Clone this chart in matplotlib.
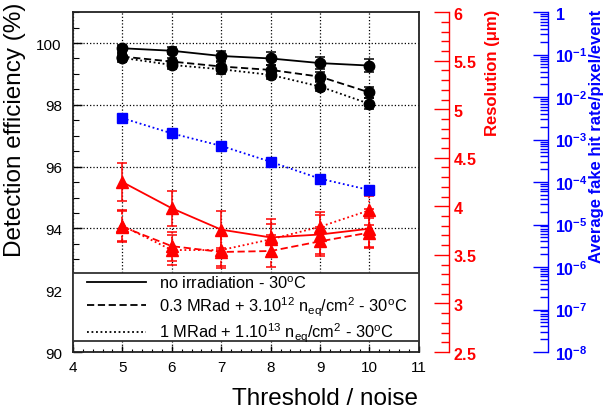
import numpy as np
import matplotlib
matplotlib.use('Agg')
from matplotlib import pyplot as plt
from matplotlib.lines import Line2D
from matplotlib.patches import Rectangle
from matplotlib.ticker import MultipleLocator, FuncFormatter, LogLocator, NullFormatter

plt.rcParams['font.family'] = ['Liberation Sans', 'DejaVu Sans']
plt.rcParams['mathtext.fontset'] = 'custom'
plt.rcParams['mathtext.rm'] = 'Liberation Sans'
plt.rcParams['mathtext.it'] = 'Liberation Sans:italic'
plt.rcParams['mathtext.bf'] = 'Liberation Sans:bold'
plt.rcParams['mathtext.default'] = 'regular'

# threshold / noise
thr = [5, 6, 7, 8, 9, 10]

# detection efficiency (%)
eff_noirr = [99.83, 99.75, 99.58, 99.50, 99.35, 99.27]
eff_03 = [99.56, 99.40, 99.24, 99.13, 98.91, 98.40]
eff_1 = [99.52, 99.29, 99.15, 98.97, 98.59, 98.03]
eff_err_noirr = [0.12, 0.12, 0.15, 0.2, 0.2, 0.22]
eff_err_03 = [0.12, 0.12, 0.15, 0.15, 0.15, 0.18]
eff_err_1 = [0.12, 0.12, 0.15, 0.15, 0.15, 0.18]

# resolution (um)
res_noirr = [4.25, 3.98, 3.76, 3.68, 3.71, 3.77]
res_03 = [3.79, 3.59, 3.53, 3.54, 3.64, 3.73]
res_1 = [3.80, 3.55, 3.55, 3.66, 3.79, 3.96]
res_err_noirr = [0.2, 0.18, 0.19, 0.19, 0.2, 0.2]
res_err_03 = [0.16, 0.15, 0.16, 0.16, 0.15, 0.15]
res_err_1 = [0.16, 0.15, 0.16, 0.16, 0.15, 0.15]

# average fake hit rate / pixel / event
fake_rate = [3.2e-3, 1.4e-3, 7.1e-4, 3.0e-4, 1.2e-4, 6.5e-5]

legend_labels = ['no irradiation - 30$^{o}$C',
                 '0.3 MRad + 3.10$^{12}$ n$_{eq}$/cm$^{2}$ - 30$^{o}$C',
                 '1 MRad + 1.10$^{13}$ n$_{eq}$/cm$^{2}$ - 30$^{o}$C']

RED = '#ff0000'
BLUE = '#0000ff'

fig = plt.figure(figsize=(6.08, 4.10), dpi=100)
ax = fig.add_axes([0.120, 0.139, 0.569, 0.829])
ax.set_xlim(4, 11)
ax.set_ylim(90, 101)
ax.xaxis.set_major_locator(MultipleLocator(1))
ax.xaxis.set_minor_locator(MultipleLocator(0.2))
ax.yaxis.set_major_locator(MultipleLocator(2))
ax.yaxis.set_minor_locator(MultipleLocator(0.5))
ax.tick_params(axis='x', which='major', direction='in', length=4.5, width=1, labelsize=11, pad=6)
ax.tick_params(axis='x', which='minor', direction='in', length=2.5, width=0.8)
ax.tick_params(axis='y', which='major', direction='in', length=6.5, width=1, labelsize=11, pad=8)
ax.tick_params(axis='y', which='minor', direction='in', length=4, width=0.8)
ax.grid(True, which='major', linestyle=':', color='black', linewidth=0.9)
for s in ax.spines.values():
    s.set_linewidth(1.3)
    s.set_color('#222222')

styles = ['-', (0, (4, 2)), (0, (1, 1.5))]

# black: efficiency
for y, e, ls in zip([eff_noirr, eff_03, eff_1], [eff_err_noirr, eff_err_03, eff_err_1], styles):
    eb = ax.errorbar(thr, y, yerr=e, color='black', marker='o', markersize=7.5,
                     linestyle=ls, linewidth=1.3, capsize=3.5, elinewidth=1.1, capthick=1.1)
    eb[2][0].set_linestyle(ls)

# red: resolution
ax2 = ax.twinx()
ax2.set_ylim(2.5, 6)
ax2.spines['right'].set_position(('axes', 1.087))
for k in ['left', 'top', 'bottom']:
    ax2.spines[k].set_visible(False)
ax2.spines['right'].set_color(RED)
ax2.spines['right'].set_linewidth(1)
ax2.yaxis.set_major_locator(MultipleLocator(0.5))
ax2.yaxis.set_minor_locator(MultipleLocator(0.1))
ax2.yaxis.set_major_formatter(FuncFormatter(lambda v, p: r'$\mathbf{%g}$' % v))
ax2.tick_params(axis='y', which='major', direction='in', length=11, width=1, color=RED,
                labelcolor=RED, labelsize=11.5, pad=3)
ax2.tick_params(axis='y', which='minor', direction='in', length=5.5, width=1, color=RED)

for y, e, ls in zip([res_noirr, res_03, res_1], [res_err_noirr, res_err_03, res_err_1], styles):
    eb = ax2.errorbar(thr, y, yerr=e, color=RED, marker='^', markersize=8,
                      linestyle=ls, linewidth=1.3, capsize=3.5, elinewidth=1.1, capthick=1.1)
    eb[2][0].set_linestyle(ls)

# blue: fake hit rate
ax3 = ax.twinx()
ax3.set_yscale('log')
ax3.set_ylim(1e-8, 1)
ax3.spines['right'].set_position(('axes', 1.373))
for k in ['left', 'top', 'bottom']:
    ax3.spines[k].set_visible(False)
ax3.spines['right'].set_color(BLUE)
ax3.spines['right'].set_linewidth(1)
ax3.yaxis.set_major_locator(LogLocator(base=10, numticks=20))
ax3.yaxis.set_minor_locator(LogLocator(base=10, subs=np.arange(2, 10), numticks=20))
ax3.yaxis.set_minor_formatter(NullFormatter())


def blue_fmt(v, p):
    n = int(round(np.log10(v)))
    if n == 0:
        return r'$\mathbf{1}$'
    return r'$\mathbf{10^{%d}}$' % n


ax3.yaxis.set_major_formatter(FuncFormatter(blue_fmt))
ax3.tick_params(axis='y', which='major', direction='in', length=11, width=1, color=BLUE,
                labelcolor=BLUE, labelsize=11.5, pad=5)
ax3.tick_params(axis='y', which='minor', direction='in', length=5.5, width=1, color=BLUE)
ax3.plot(thr, fake_rate, color=BLUE, marker='s', markersize=7, linestyle=(0, (1, 1.5)), linewidth=1.3)

# legend box on top of everything
box = Rectangle((0, 0.032), 1, 0.2, transform=ax3.transAxes, facecolor='white',
                edgecolor='#333333', linewidth=1.3, zorder=10)
ax3.add_patch(box)
handles = [Line2D([], [], color='black', linestyle=ls, linewidth=1.3) for ls in styles]
leg = ax3.legend(handles, legend_labels, loc='upper left', bbox_to_anchor=(0.04, 0.228),
                 borderaxespad=0, borderpad=0, fontsize=11.8, handlelength=3.6,
                 handletextpad=0.8, labelspacing=0.2, frameon=False)
leg.set_zorder(11)

fig.text(15 / 608, 1 - 3 / 410, 'Detection efficiency (%)', rotation=90, va='top', ha='center',
         fontsize=17.5)
fig.text(418 / 608, 1 - 405 / 410, 'Threshold / noise', ha='right', va='baseline', fontsize=17.5)
fig.text(492 / 608, 1 - 10 / 410, 'Resolution (\u03bcm)', rotation=90, va='top', ha='center',
         fontsize=12, fontweight='bold', color=RED)
fig.text(597 / 608, 1 - 10 / 410, 'Average fake hit rate/pixel/event', rotation=90, va='top',
         ha='center', fontsize=12, fontweight='bold', color=BLUE)

fig.savefig('out.png', dpi=100)
